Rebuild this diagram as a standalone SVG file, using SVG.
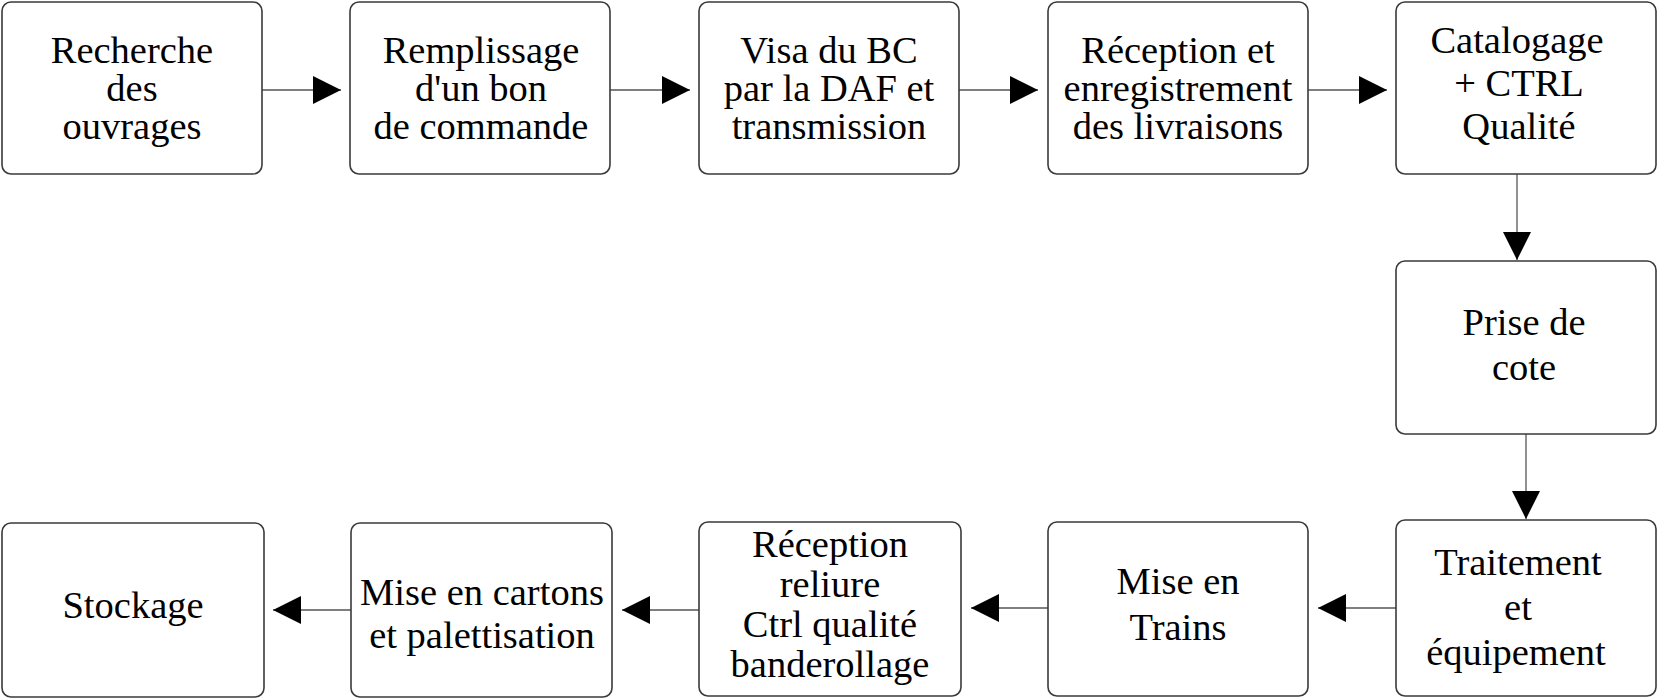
<svg xmlns="http://www.w3.org/2000/svg" width="1657" height="699" viewBox="0 0 1657 699">
<style>
.box{fill:#ffffff;stroke:#3a3a3a;stroke-width:1.6}
.lbl{font-family:"Liberation Serif","Times New Roman",serif;font-size:38.5px;fill:#000;text-anchor:middle}
.con{stroke:#555;stroke-width:1.3;fill:none;marker-end:url(#ah)}
</style>
<defs>
<marker id="ah" markerUnits="userSpaceOnUse" markerWidth="30" markerHeight="30" refX="28" refY="14" orient="auto" viewBox="0 0 30 30">
<path d="M0,0 L28,14 L0,28 z" fill="#000"/>
</marker>
</defs>
<rect width="1657" height="699" fill="#ffffff"/>
<g id="connectors">
<line class="con" x1="262" y1="90" x2="341" y2="90"/>
<line class="con" x1="610" y1="90" x2="690" y2="90"/>
<line class="con" x1="959" y1="90" x2="1038" y2="90"/>
<line class="con" x1="1308" y1="90" x2="1387" y2="90"/>
<line class="con" x1="1517" y1="174" x2="1517" y2="260"/>
<line class="con" x1="1526" y1="434" x2="1526" y2="519"/>
<line class="con" x1="1396" y1="608" x2="1318" y2="608"/>
<line class="con" x1="1048" y1="608" x2="971" y2="608"/>
<line class="con" x1="699" y1="610" x2="622" y2="610"/>
<line class="con" x1="351" y1="610" x2="273" y2="610"/>
</g>
<g id="n1"><rect class="box" x="2" y="2" width="260" height="172" rx="9"/>
<text class="lbl" x="132" y="63">Recherche</text><text class="lbl" x="132" y="101">des</text><text class="lbl" x="132" y="139">ouvrages</text></g>
<g id="n2"><rect class="box" x="350" y="2" width="260" height="172" rx="9"/>
<text class="lbl" x="481" y="63">Remplissage</text><text class="lbl" x="481" y="101">d'un bon</text><text class="lbl" x="481" y="139">de commande</text></g>
<g id="n3"><rect class="box" x="699" y="2" width="260" height="172" rx="9"/>
<text class="lbl" x="829" y="63">Visa du BC</text><text class="lbl" x="829" y="101">par la DAF et</text><text class="lbl" x="829" y="139">transmission</text></g>
<g id="n4"><rect class="box" x="1048" y="2" width="260" height="172" rx="9"/>
<text class="lbl" x="1178" y="63">Réception et</text><text class="lbl" x="1178" y="101">enregistrement</text><text class="lbl" x="1178" y="139">des livraisons</text></g>
<g id="n5"><rect class="box" x="1396" y="2" width="260" height="172" rx="9"/>
<text class="lbl" x="1517" y="53">Catalogage</text><text class="lbl" x="1519" y="96">+ CTRL</text><text class="lbl" x="1519" y="139">Qualité</text></g>
<g id="n6"><rect class="box" x="1396" y="261" width="260" height="173" rx="9"/>
<text class="lbl" x="1524" y="335">Prise de</text><text class="lbl" x="1524" y="380">cote</text></g>
<g id="n7"><rect class="box" x="1396" y="520" width="260" height="176" rx="9"/>
<text class="lbl" x="1518" y="575">Traitement</text><text class="lbl" x="1518" y="620">et</text><text class="lbl" x="1516" y="665">équipement</text></g>
<g id="n8"><rect class="box" x="1048" y="522" width="260" height="174" rx="9"/>
<text class="lbl" x="1178" y="594">Mise en</text><text class="lbl" x="1178" y="640">Trains</text></g>
<g id="n9"><rect class="box" x="699" y="522" width="262" height="174" rx="9"/>
<text class="lbl" x="830" y="557">Réception</text><text class="lbl" x="830" y="597">reliure</text><text class="lbl" x="830" y="637">Ctrl qualité</text><text class="lbl" x="830" y="677">banderollage</text></g>
<g id="n10"><rect class="box" x="351" y="523" width="261" height="174" rx="9"/>
<text class="lbl" x="482" y="605">Mise en cartons</text><text class="lbl" x="482" y="648">et palettisation</text></g>
<g id="n11"><rect class="box" x="2" y="523" width="262" height="174" rx="9"/>
<text class="lbl" x="133" y="618">Stockage</text></g>
</svg>
